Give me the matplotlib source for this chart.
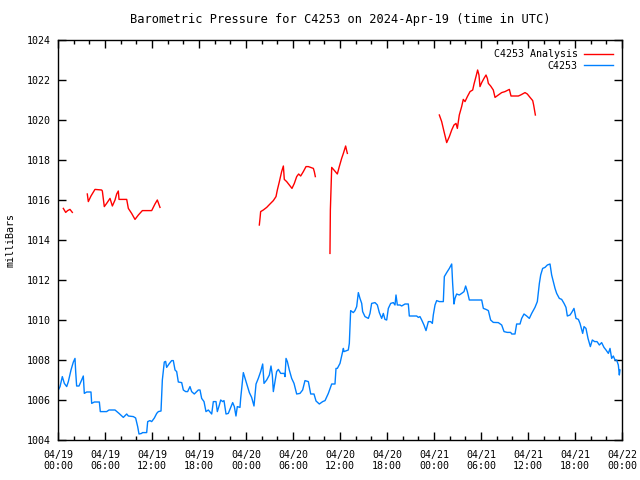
import matplotlib
matplotlib.use("Agg")
import matplotlib.pyplot as plt
import matplotlib.dates as mdates
import numpy as np
import pandas as pd

# hours after 2024-04-19 00:00 UTC, pressure in mb
obs_hours = [0.04, 0.26, 0.55, 0.81, 1.11, 1.32, 1.66, 1.96, 2.17, 2.26, 2.38, 2.68, 3.02, 3.23, 3.36,
             3.66, 4.21, 4.30, 4.64, 5.28, 5.40, 6.21, 6.51, 7.28, 7.79, 8.34, 8.77, 8.98, 9.62, 9.91,
             10.17, 10.34, 10.68, 10.77, 11.32, 11.45, 11.74, 11.96, 12.30, 12.60, 12.81, 13.15, 13.32,
             13.57, 13.74, 13.87, 14.17, 14.51, 14.72, 14.94, 15.15, 15.36, 15.79, 16.00, 16.30, 16.55,
             16.85, 17.06, 17.40, 17.91, 18.13, 18.34, 18.64, 18.89, 19.19, 19.62, 19.83, 20.17, 20.34,
             20.60, 20.77, 21.02, 21.19, 21.45, 21.74, 22.30, 22.51, 22.72, 22.89, 23.23, 23.32, 23.66,
             23.79, 24.00, 24.43, 24.72, 25.02, 25.28, 25.57, 25.87, 26.13, 26.30, 26.64, 26.98, 27.19,
             27.36, 27.49, 27.70, 27.91, 28.13, 28.43, 28.89, 28.98, 29.11, 29.28, 29.53, 29.83, 30.13,
             30.47, 30.89, 31.23, 31.53, 31.96, 32.26, 32.68, 32.94, 33.36, 33.79, 34.09, 34.51, 34.94,
             35.36, 35.49, 35.66, 36.00, 36.43, 36.51, 37.06, 37.19, 37.28, 37.36, 37.70, 37.91, 38.13,
             38.34, 38.55, 38.77, 38.89, 39.19, 39.62, 39.83, 40.04, 40.47, 40.77, 41.02, 41.32, 41.53,
             41.74, 41.96, 42.17, 42.47, 42.81, 43.02, 43.15, 43.32, 43.66, 43.87, 44.30, 44.72, 44.85,
             45.79, 46.00, 46.21, 46.43, 46.72, 46.98, 47.28, 47.57, 47.79, 47.91, 48.13, 48.34, 48.68,
             48.98, 49.19, 49.32, 49.62, 49.96, 50.26, 50.38, 50.55, 50.68, 50.89, 51.23, 51.53, 51.83,
             52.04, 52.26, 52.51, 54.09, 54.30, 54.64, 54.94, 55.23, 55.57, 56.21, 56.64, 56.94, 57.36,
             57.79, 57.92, 58.34, 58.55, 58.98, 59.19, 59.49, 59.83, 60.17, 60.47, 60.89, 61.19, 61.45,
             61.62, 61.87, 62.17, 62.47, 62.81, 63.02, 63.23, 63.45, 63.66, 64.00, 64.30, 64.60, 64.85,
             65.02, 65.36, 65.57, 65.87, 66.13, 66.43, 66.64, 66.85, 66.98, 67.15, 67.40, 67.66, 67.96,
             68.21, 68.51, 68.81, 69.11, 69.40, 69.70, 69.96, 70.26, 70.47, 70.68, 70.89, 71.11, 71.32,
             71.53, 71.66, 71.74]
obs_mb = [1006.5, 1006.67, 1007.17, 1006.83, 1006.67, 1006.92, 1007.5, 1007.9, 1008.08, 1007.4, 1006.7,
          1006.7, 1007.0, 1007.2, 1006.33, 1006.4, 1006.4, 1005.83, 1005.9, 1005.9, 1005.42, 1005.42,
          1005.5, 1005.5, 1005.33, 1005.13, 1005.3, 1005.2, 1005.17, 1005.1, 1004.67, 1004.3, 1004.33,
          1004.37, 1004.37, 1004.92, 1004.97, 1004.92, 1005.1, 1005.33, 1005.42, 1005.45, 1007.0, 1007.9,
          1007.93, 1007.63, 1007.8, 1007.97, 1007.97, 1007.5, 1007.42, 1006.9, 1006.87, 1006.5, 1006.42,
          1006.42, 1006.67, 1006.42, 1006.3, 1006.5, 1006.5, 1006.08, 1005.92, 1005.42, 1005.5, 1005.3,
          1005.92, 1005.92, 1005.42, 1005.75, 1006.0, 1005.92, 1005.97, 1005.3, 1005.33, 1005.87, 1005.67,
          1005.2, 1005.67, 1005.63, 1006.08, 1007.37, 1007.2, 1006.92, 1006.37, 1006.13, 1005.7, 1006.8,
          1007.08, 1007.42, 1007.8, 1006.83, 1007.0, 1007.25, 1007.7, 1007.25, 1006.42, 1006.92, 1007.42,
          1007.53, 1007.33, 1007.33, 1007.17, 1008.08, 1007.92, 1007.5, 1007.08, 1006.83, 1006.3, 1006.33,
          1006.5, 1006.97, 1006.92, 1006.3, 1006.3, 1005.95, 1005.8, 1005.92, 1005.97, 1006.33, 1006.8,
          1006.8, 1007.58, 1007.58, 1007.83, 1008.58, 1008.42, 1008.5, 1008.83, 1009.75, 1010.47, 1010.37,
          1010.47, 1010.67, 1011.37, 1011.08, 1010.83, 1010.42, 1010.17, 1010.08, 1010.33, 1010.83,
          1010.87, 1010.75, 1010.37, 1010.08, 1010.33, 1010.03, 1010.0, 1010.58, 1010.83, 1010.87,
          1010.75, 1011.25, 1010.75, 1010.75, 1010.7, 1010.8, 1010.8, 1010.2, 1010.2, 1010.13, 1010.17,
          1010.0, 1009.75, 1009.47, 1009.92, 1009.92, 1009.83, 1010.25, 1010.75, 1010.97, 1010.92,
          1010.92, 1010.92, 1012.17, 1012.37, 1012.58, 1012.8, 1011.83, 1010.8, 1011.08, 1011.3, 1011.25,
          1011.33, 1011.42, 1011.7, 1011.42, 1011.0, 1011.0, 1010.58, 1010.53, 1010.47, 1010.0, 1009.88,
          1009.87, 1009.75, 1009.42, 1009.38, 1009.38, 1009.3, 1009.3, 1009.8, 1009.8, 1010.08, 1010.3,
          1010.2, 1010.08, 1010.33, 1010.63, 1010.92, 1011.83, 1012.25, 1012.58, 1012.63, 1012.75, 1012.8,
          1012.25, 1011.92, 1011.58, 1011.33, 1011.08, 1011.03, 1010.83, 1010.63, 1010.2, 1010.25,
          1010.37, 1010.58, 1010.08, 1010.03, 1009.83, 1009.53, 1009.33, 1009.67, 1009.58, 1009.08,
          1008.67, 1009.0, 1008.92, 1008.92, 1008.75, 1008.87, 1008.63, 1008.5, 1008.33, 1008.58,
          1008.08, 1008.2, 1008.0, 1008.0, 1007.75, 1007.25, 1007.5]

# analysis segments (gaps between them)
ana_hours_1 = [0.68, 0.98, 1.23, 1.53, 1.83]
ana_mb_1 = [1015.58, 1015.38, 1015.47, 1015.53, 1015.38]
ana_hours_2 = [3.74, 3.87, 4.21, 4.72, 5.57, 5.66, 5.91, 6.21, 6.64, 6.94, 7.28, 7.49, 7.70, 7.79, 8.77,
               8.98, 9.40, 9.83, 10.26, 10.77, 11.96, 12.38, 12.68, 13.02]
ana_mb_2 = [1016.3, 1015.92, 1016.2, 1016.53, 1016.5, 1016.45, 1015.67, 1015.83, 1016.08, 1015.7, 1016.0,
            1016.3, 1016.45, 1016.03, 1016.03, 1015.58, 1015.33, 1015.03, 1015.25, 1015.47, 1015.47,
            1015.8, 1016.0, 1015.63]
ana_hours_3 = [25.70, 25.79, 25.87, 26.21, 26.64, 27.06, 27.49, 27.83, 28.00, 28.26, 28.55, 28.77, 28.89,
               29.19, 29.53, 29.87, 30.17, 30.47, 30.72, 30.98, 31.32, 31.66, 31.96, 32.60, 32.72, 32.85]
ana_mb_3 = [1014.75, 1015.08, 1015.42, 1015.5, 1015.63, 1015.8, 1015.97, 1016.17, 1016.5, 1016.92, 1017.42,
            1017.7, 1017.03, 1016.92, 1016.75, 1016.58, 1016.83, 1017.17, 1017.3, 1017.2, 1017.42,
            1017.67, 1017.67, 1017.58, 1017.42, 1017.17]
ana_hours_4 = [34.72, 34.77, 34.94, 35.23, 35.66, 35.91, 36.21, 36.43, 36.72, 36.85, 36.94]
ana_mb_4 = [1013.33, 1015.5, 1017.63, 1017.5, 1017.3, 1017.67, 1018.08, 1018.33, 1018.7, 1018.47, 1018.33]
ana_hours_5 = [48.68, 48.98, 49.28, 49.62, 49.96, 50.26, 50.55, 50.81, 50.98, 51.23, 51.53, 51.74, 51.96,
               52.26, 52.60, 52.94, 53.11, 53.36, 53.57, 53.74, 53.87, 54.09, 54.38, 54.64, 54.81, 54.94,
               55.23, 55.57, 55.79, 56.21, 56.64, 57.06, 57.62, 57.83, 58.77, 59.06, 59.62, 59.91, 60.26,
               60.60, 60.72, 60.94]
ana_mb_5 = [1020.25, 1019.92, 1019.42, 1018.87, 1019.17, 1019.5, 1019.75, 1019.83, 1019.58, 1020.25,
            1020.67, 1021.03, 1020.92, 1021.17, 1021.42, 1021.5, 1021.8, 1022.17, 1022.5, 1022.25, 1021.67,
            1021.87, 1022.08, 1022.25, 1022.08, 1021.83, 1021.7, 1021.5, 1021.13, 1021.25, 1021.37,
            1021.42, 1021.53, 1021.2, 1021.2, 1021.25, 1021.37, 1021.3, 1021.13, 1020.97, 1020.75, 1020.25]

start = pd.Timestamp("2024-04-19 00:00")
def to_time(h):
    return start + pd.to_timedelta(np.array(h), unit="h")

plt.rcParams['font.family'] = 'DejaVu Sans Mono'
plt.rcParams['font.size'] = 7.2

fig = plt.figure(figsize=(6.4, 4.8), dpi=100)
ax = fig.add_axes([58/640, 40/480, 564/640, 400/480])

segments = [(ana_hours_1, ana_mb_1), (ana_hours_2, ana_mb_2), (ana_hours_3, ana_mb_3),
            (ana_hours_4, ana_mb_4), (ana_hours_5, ana_mb_5)]
for i, (h, v) in enumerate(segments):
    ax.plot(to_time(h), v, color='#ff0000', linewidth=1, label='C4253 Analysis' if i == 0 else None)
ax.plot(to_time(obs_hours), obs_mb, color='#0080ff', linewidth=1, label='C4253')

ax.set_xlim(start, start + pd.Timedelta(hours=72))
ax.set_ylim(1004, 1024)
ax.set_yticks(np.arange(1004, 1025, 2))
ax.xaxis.set_major_locator(mdates.HourLocator(byhour=range(0, 24, 6)))
ax.xaxis.set_minor_locator(mdates.HourLocator(interval=2))
ax.xaxis.set_major_formatter(mdates.DateFormatter('%m/%d\n%H:%M'))
ax.tick_params(which='both', direction='in', top=True, right=True, width=1)
ax.tick_params(which='major', length=6)
ax.tick_params(which='minor', length=3)
ax.tick_params(axis='x', pad=7)
ax.tick_params(axis='y', pad=5)
for s in ax.spines.values():
    s.set_linewidth(1)

ax.set_ylabel('milliBars', labelpad=8)
ax.set_title('Barometric Pressure for C4253 on 2024-Apr-19 (time in UTC)', pad=12)
ax.legend(loc='upper right', frameon=False, markerfirst=False, handlelength=2.9,
          borderaxespad=0.55, labelspacing=0.15, handletextpad=0.6)

fig.savefig('out.png', dpi=100)
